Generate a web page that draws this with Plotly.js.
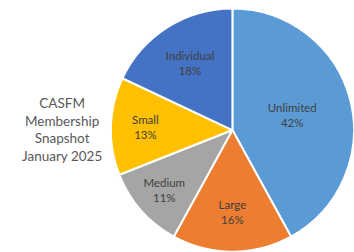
<!DOCTYPE html>
<html><head><meta charset="utf-8">
<script src="https://cdn.plot.ly/plotly-3.0.1.min.js"></script>
<style>html,body{margin:0;padding:0;background:#fff}#c{width:354px;height:252px}</style>
</head><body><div id="c"></div>
<script>
const categories = ["Unlimited", "Large", "Medium", "Small", "Individual"];
const shares = [42, 16, 11, 13, 18];
const colors = ["#5B9BD5", "#ED7D31", "#A5A5A5", "#FFC000", "#4472C4"];
const titleLines = ["CASFM", "Membership", "Snapshot", "January 2025"];

Plotly.newPlot("c", [{
  type: "pie",
  labels: categories,
  values: shares,
  sort: false,
  direction: "clockwise",
  rotation: 0,
  marker: {colors: colors, line: {color: "#ffffff", width: 2}},
  textinfo: "label+percent",
  texttemplate: "%{label}<br>%{percent:.0%}",
  textposition: "inside",
  insidetextorientation: "horizontal",
  textfont: {family: "Lato, 'Open Sans', sans-serif", size: 11.5, color: "#404040"},
  domain: {x: [0.313, 1.0], y: [0.0, 0.968]},
  hoverinfo: "none"
}], {
  width: 354, height: 252,
  margin: {l: 0, r: 0, t: 0, b: 0},
  showlegend: false,
  paper_bgcolor: "#ffffff",
  annotations: [{
    text: titleLines.join("<br>"),
    xref: "paper", yref: "paper",
    x: 62/354, y: 1 - 129/252,
    xanchor: "center", yanchor: "middle",
    showarrow: false,
    align: "center",
    font: {family: "Lato, 'Open Sans', sans-serif", size: 13.5, color: "#595959"}
  }]
}, {staticPlot: true});
</script></body></html>
